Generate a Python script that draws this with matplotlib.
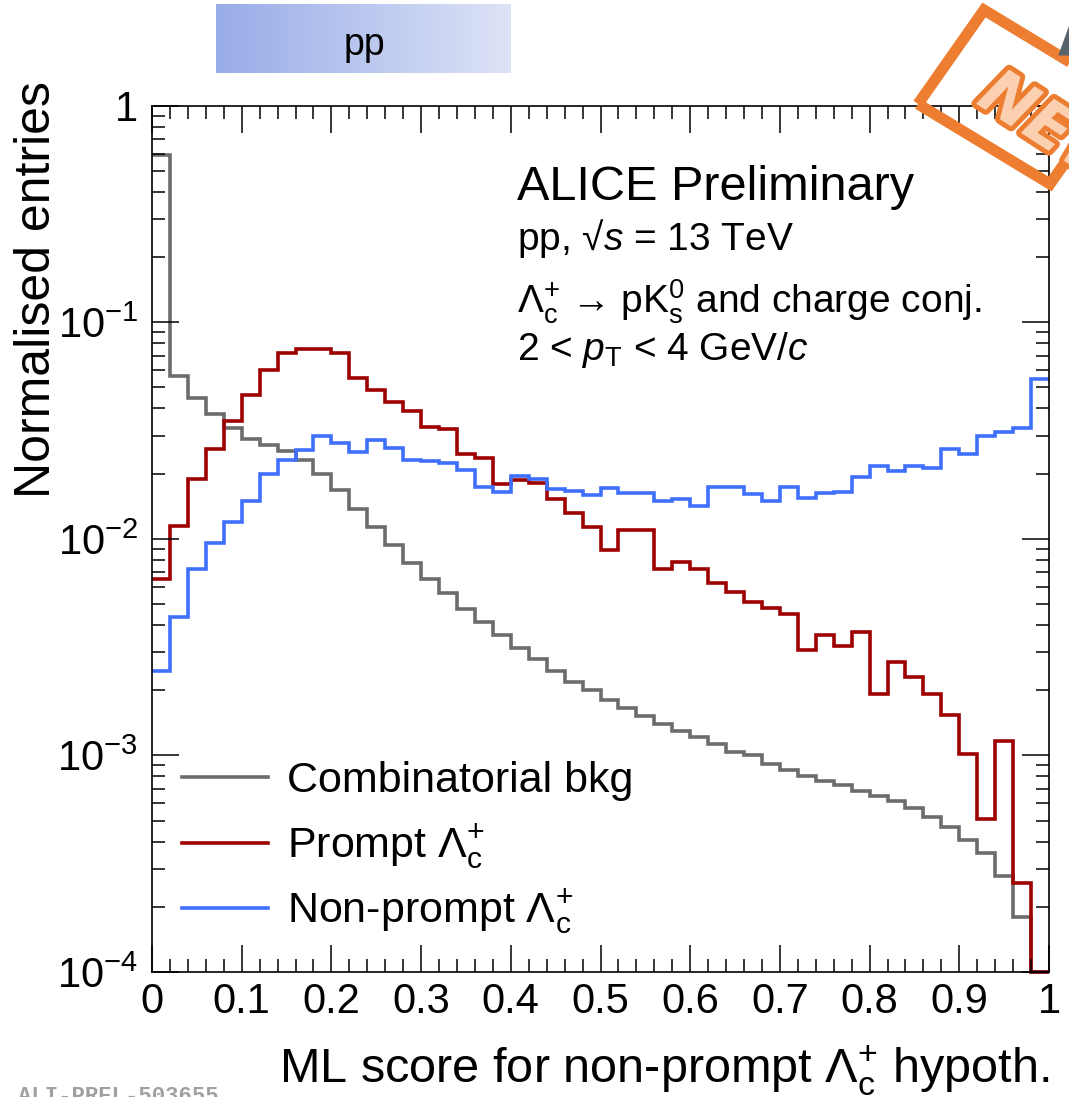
import numpy as np
import matplotlib
matplotlib.use("Agg")
import matplotlib.pyplot as plt
import matplotlib.patheffects as pe
from matplotlib.colors import LinearSegmentedColormap
from matplotlib.lines import Line2D
from matplotlib.patches import Polygon
from matplotlib.ticker import MultipleLocator, LogLocator, FuncFormatter, NullFormatter

plt.rcParams['mathtext.fontset'] = 'custom'
plt.rcParams['mathtext.rm'] = 'Liberation Sans'
plt.rcParams['mathtext.it'] = 'Liberation Sans:italic'
plt.rcParams['mathtext.bf'] = 'Liberation Sans:bold'
plt.rcParams['font.family'] = ['Liberation Sans', 'DejaVu Sans']

W, H = 1069, 1097

# 50 bins of the ML score in [0, 1]
bin_edges = np.linspace(0, 1, 51)

bkg = [0.59, 0.0565, 0.0446, 0.0378, 0.0325, 0.0288, 0.0271, 0.0255, 0.0231, 0.0199,
       0.0168, 0.0138, 0.0114, 0.00937, 0.00777, 0.00653, 0.00561, 0.00475, 0.00415, 0.0036,
       0.00315, 0.00278, 0.00246, 0.00219, 0.0020, 0.00181, 0.00165, 0.00152, 0.0014, 0.0013,
       0.00121, 0.00113, 0.00104, 0.0010, 0.00091, 0.000857, 0.000807, 0.000765, 0.000728, 0.000688,
       0.00065, 0.000618, 0.00057, 0.000521, 0.000469, 0.000407, 0.000356, 0.000278, 0.00018, 0.0001]

prompt = [0.0065, 0.0115, 0.0189, 0.0259, 0.0351, 0.0462, 0.0602, 0.0719, 0.075, 0.0752,
          0.0719, 0.0551, 0.0487, 0.043, 0.0391, 0.033, 0.0321, 0.0247, 0.0236, 0.0179,
          0.0187, 0.0181, 0.0152, 0.0131, 0.0114, 0.00889, 0.011, 0.011, 0.00724, 0.0078,
          0.00725, 0.00628, 0.00567, 0.00513, 0.00478, 0.0045, 0.00307, 0.0036, 0.00321, 0.00371,
          0.00192, 0.00269, 0.0023, 0.00192, 0.00154, 0.00102, 0.000509, 0.00116, 0.000257, 0.0001]

nonprompt = [0.00246, 0.00437, 0.00726, 0.00955, 0.012, 0.0149, 0.0199, 0.0231, 0.0257, 0.0299,
             0.0278, 0.0253, 0.0286, 0.0262, 0.0231, 0.0229, 0.0223, 0.0208, 0.0174, 0.0164,
             0.0196, 0.0189, 0.017, 0.0167, 0.0159, 0.0171, 0.0162, 0.0162, 0.0149, 0.0153,
             0.0142, 0.0173, 0.0173, 0.0161, 0.0149, 0.0174, 0.0154, 0.0162, 0.0165, 0.0194,
             0.0218, 0.0206, 0.0218, 0.0212, 0.0259, 0.0246, 0.0299, 0.031, 0.0324, 0.0547]

labels = ['Combinatorial bkg', r'Prompt $\Lambda_{\mathrm{c}}^{+}$', r'Non-prompt $\Lambda_{\mathrm{c}}^{+}$']
colors = ['#6c6c6c', '#9e0000', '#3f6ffd']


def fx(px):
    return px / W


def fy(py):
    return 1 - py / H


fig = plt.figure(figsize=(W / 100, H / 100), dpi=100)
ax = fig.add_axes([fx(152), fy(972), fx(1049) - fx(152), (972 - 105.7) / H])

for vals, col in zip([bkg, prompt, nonprompt], colors):
    ax.stairs(vals, bin_edges, baseline=None, color=col, lw=2.6, clip_on=False)

ax.set_xlim(0, 1)
ax.set_yscale('log')
ax.set_ylim(1e-4, 1)

ax.xaxis.set_major_locator(MultipleLocator(0.1))
ax.xaxis.set_minor_locator(MultipleLocator(0.02))
ax.xaxis.set_major_formatter(FuncFormatter(lambda v, p: f'{v:g}'))
ax.yaxis.set_major_locator(LogLocator(base=10, numticks=10))
ax.yaxis.set_minor_locator(LogLocator(base=10, subs=np.arange(2, 10), numticks=20))
ax.yaxis.set_minor_formatter(NullFormatter())
ax.yaxis.set_major_formatter(FuncFormatter(
    lambda v, p: '1' if abs(v - 1) < 1e-9 else r'$\mathdefault{10^{%d}}$' % round(np.log10(v))))

ax.tick_params(which='both', direction='in', top=True, right=True, width=1.1, labelsize=30)
ax.tick_params(which='major', length=19.5)
ax.tick_params(which='minor', length=9.5)
ax.tick_params(axis='x', pad=7)
ax.tick_params(axis='y', pad=10)
for sp in ax.spines.values():
    sp.set_linewidth(1.2)

# axis titles
fig.text(fx(37), fy(290), 'Normalised entries', rotation=90, ha='center', va='center', fontsize=36)
fig.text(fx(1050), fy(1083), r'ML score for non-prompt $\Lambda_{\mathrm{c}}^{+}$ hypoth.',
         ha='right', va='baseline', fontsize=35)

# physics labels
fig.text(fx(517), fy(200), 'ALICE Preliminary', fontsize=35, va='baseline')
fig.text(fx(517), fy(250), r'pp, √$s$ = 13 TeV', fontsize=28, va='baseline')
fig.text(fx(517), fy(313), r'$\Lambda_{\mathrm{c}}^{+}$ → pK$_{\mathrm{s}}^{0}$ and charge conj.',
         fontsize=28, va='baseline')
fig.text(fx(517), fy(360), r'2 < $p_{\mathrm{T}}$ < 4 GeV/$c$', fontsize=28, va='baseline')

# legend
for lab, col, yrow in zip(labels, colors, [777, 843, 908]):
    fig.add_artist(Line2D([fx(182), fx(268)], [fy(yrow), fy(yrow)], color=col, lw=2.6,
                          transform=fig.transFigure))
    fig.text(fx(287), fy(yrow + 15), lab, fontsize=31, va='baseline')

# "pp" banner with gradient
ax_b = fig.add_axes([fx(216), fy(73), fx(511) - fx(216), (73 - 4) / H])
band = LinearSegmentedColormap.from_list('band', ['#98ace8', '#dde3f6'])
ax_b.imshow(np.linspace(0, 1, 256)[None, :], cmap=band, aspect='auto', extent=(0, 1, 0, 1))
ax_b.axis('off')
fig.text(fx(364), fy(55), 'pp', fontsize=27, ha='center', va='baseline')

# NEW stamp in the corner
stamp = [(918, 104), (984, 10), (1116, 90), (1050, 184)]
fig.add_artist(Polygon([(fx(a), fy(b)) for a, b in stamp], closed=True, fill=False,
                       edgecolor='#ed7d31', lw=8, joinstyle='miter', transform=fig.transFigure))
fig.text(fx(975), fy(103), 'NEW', rotation=-33, rotation_mode='anchor', ha='left', va='baseline',
         fontsize=46, fontweight='bold', fontstyle='italic', family='DejaVu Sans', color='#fad0b0',
         path_effects=[pe.withStroke(linewidth=7, foreground='#ed7d31')])
fig.text(fx(1056), fy(-8), 'A', ha='left', va='top', fontsize=64, fontweight='bold', color='#56636b')

fig.text(fx(18), fy(1086), 'ALI-PREL-503655', ha='left', va='top', fontsize=16,
         family='Liberation Mono', fontweight='bold', color='#a0a0a0')

fig.savefig('out.png', dpi=100)
